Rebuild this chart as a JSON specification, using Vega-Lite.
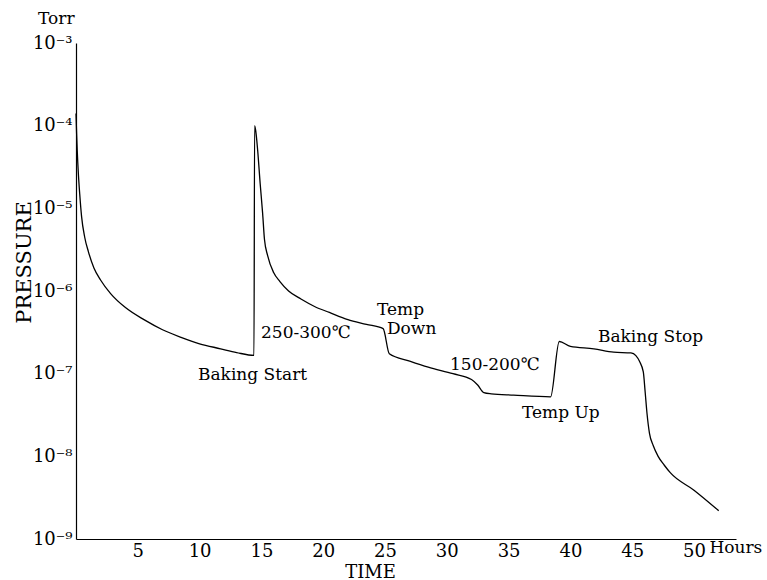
{
  "$schema": "https://vega.github.io/schema/vega-lite/v6.json",
  "width": 660,
  "height": 496,
  "autosize": {"type": "none"},
  "padding": {"left": 76, "top": 43, "right": 31, "bottom": 41},
  "background": "white",
  "config": {"view": {"stroke": null}, "font": "DejaVu Serif"},
  "layer": [
    {
      "data": {"values": [
        {"t": 0.0, "p": 1.4e-4},
        {"t": 0.05, "p": 8e-5},
        {"t": 0.1, "p": 5e-5},
        {"t": 0.2, "p": 2.5e-5},
        {"t": 0.3, "p": 1.5e-5},
        {"t": 0.45, "p": 8e-6},
        {"t": 0.7, "p": 4.5e-6},
        {"t": 1.0, "p": 3e-6},
        {"t": 1.45, "p": 1.9e-6},
        {"t": 2.0, "p": 1.35e-6},
        {"t": 2.8, "p": 9.3e-7},
        {"t": 4.0, "p": 6.3e-7},
        {"t": 5.5, "p": 4.5e-7},
        {"t": 7.0, "p": 3.4e-7},
        {"t": 8.5, "p": 2.75e-7},
        {"t": 10.0, "p": 2.3e-7},
        {"t": 11.7, "p": 2.0e-7},
        {"t": 13.0, "p": 1.8e-7},
        {"t": 14.4, "p": 1.66e-7},
        {"t": 14.45, "p": 1.0e-4},
        {"t": 14.55, "p": 8.5e-5},
        {"t": 14.7, "p": 5e-5},
        {"t": 14.9, "p": 2e-5},
        {"t": 15.1, "p": 8.7e-6},
        {"t": 15.25, "p": 4.2e-6},
        {"t": 15.5, "p": 2.7e-6},
        {"t": 16.0, "p": 1.66e-6},
        {"t": 16.5, "p": 1.3e-6},
        {"t": 17.2, "p": 1.0e-6},
        {"t": 18.2, "p": 8e-7},
        {"t": 19.3, "p": 6.5e-7},
        {"t": 20.5, "p": 5.5e-7},
        {"t": 22.0, "p": 4.5e-7},
        {"t": 23.5, "p": 3.95e-7},
        {"t": 24.85, "p": 3.5e-7},
        {"t": 25.35, "p": 1.74e-7},
        {"t": 27.0, "p": 1.42e-7},
        {"t": 28.5, "p": 1.2e-7},
        {"t": 30.5, "p": 1.0e-7},
        {"t": 32.0, "p": 8.5e-8},
        {"t": 32.5, "p": 7.3e-8},
        {"t": 33.0, "p": 5.9e-8},
        {"t": 33.6, "p": 5.7e-8},
        {"t": 35.4, "p": 5.5e-8},
        {"t": 38.4, "p": 5.25e-8},
        {"t": 39.1, "p": 2.45e-7},
        {"t": 40.0, "p": 2.14e-7},
        {"t": 41.9, "p": 2.0e-7},
        {"t": 43.5, "p": 1.82e-7},
        {"t": 44.9, "p": 1.78e-7},
        {"t": 45.3, "p": 1.65e-7},
        {"t": 45.6, "p": 1.4e-7},
        {"t": 45.9, "p": 1.05e-7},
        {"t": 46.05, "p": 6e-8},
        {"t": 46.2, "p": 3.3e-8},
        {"t": 46.4, "p": 1.9e-8},
        {"t": 46.7, "p": 1.35e-8},
        {"t": 47.1, "p": 1.0e-8},
        {"t": 47.6, "p": 7.8e-9},
        {"t": 48.1, "p": 6.3e-9},
        {"t": 50.0, "p": 3.9e-9},
        {"t": 52.0, "p": 2.2e-9}
      ]},
      "mark": {"type": "line", "color": "black", "strokeWidth": 1.3, "interpolate": "monotone"},
      "encoding": {
        "x": {
          "field": "t", "type": "quantitative",
          "scale": {"domain": [0, 53.4], "nice": false, "zero": false},
          "axis": {
            "values": [5, 10, 15, 20, 25, 30, 35, 40, 45, 50],
            "ticks": false, "grid": false,
            "domainColor": "black", "domainWidth": 1.2,
            "labelFont": "DejaVu Serif", "labelFontSize": 18, "labelColor": "black",
            "labelPadding": 3,
            "title": "TIME", "titleFont": "DejaVu Serif", "titleFontSize": 18,
            "titleFontWeight": "normal", "titleColor": "black",
            "titleX": 294, "titleY": 38, "titleBaseline": "alphabetic", "titleAlign": "center"
          }
        },
        "y": {
          "field": "p", "type": "quantitative",
          "scale": {"type": "log", "domain": [1e-9, 1e-3], "nice": false},
          "axis": {
            "values": [1e-9, 1e-8, 1e-7, 1e-6, 1e-5, 1e-4, 1e-3],
            "labelExpr": "'10⁻' + ['⁰','¹','²','³','⁴','⁵','⁶','⁷','⁸','⁹'][round(-log(datum.value)/LN10)]",
            "ticks": false, "grid": false,
            "domainColor": "black", "domainWidth": 1.2,
            "labelFont": "DejaVu Serif", "labelFontSize": 18, "labelColor": "black",
            "labelPadding": 4,
            "title": "PRESSURE", "titleFont": "DejaVu Serif", "titleFontSize": 21,
            "titleFontWeight": "normal", "titleColor": "black",
            "titleX": -52, "titleY": 219, "titleAngle": -90,
            "titleAlign": "center", "titleBaseline": "middle"
          }
        },
        "order": {"field": "t"}
      }
    },
    {
      "data": {"values": [
        {"t": 9.87, "p": 9.6e-8, "label": "Baking Start"},
        {"t": 14.97, "p": 3.1e-7, "label": "250-300℃"},
        {"t": 24.35, "p": 5.9e-7, "label": "Temp"},
        {"t": 25.16, "p": 3.45e-7, "label": "Down"},
        {"t": 30.26, "p": 1.26e-7, "label": "150-200℃"},
        {"t": 36.08, "p": 3.3e-8, "label": "Temp Up"},
        {"t": 42.23, "p": 2.75e-7, "label": "Baking Stop"},
        {"t": 51.25, "p": 7.8e-10, "label": "Hours"},
        {"t": -3.07, "p": 1.95e-3, "label": "Torr"}
      ]},
      "mark": {"type": "text", "align": "left", "baseline": "middle", "font": "DejaVu Serif", "fontSize": 17, "color": "black", "clip": false},
      "encoding": {
        "x": {"field": "t", "type": "quantitative"},
        "y": {"field": "p", "type": "quantitative"},
        "text": {"field": "label", "type": "nominal"}
      }
    }
  ]
}
